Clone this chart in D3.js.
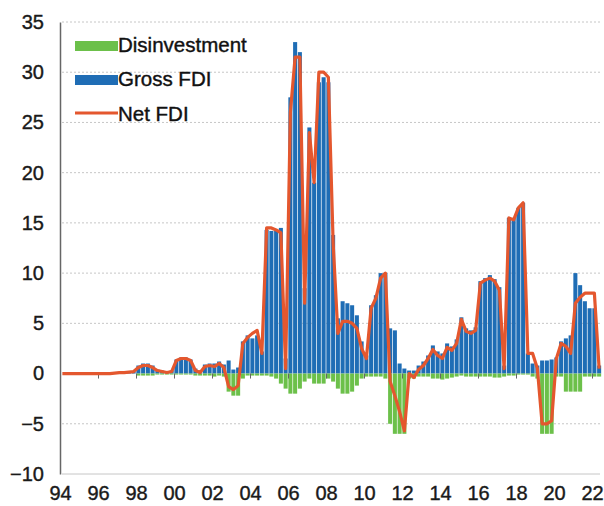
<!DOCTYPE html>
<html>
<head>
<meta charset="utf-8">
<script src="https://cdn.jsdelivr.net/npm/d3@7/dist/d3.min.js"></script>
<style>
  html, body { margin: 0; padding: 0; background: #fff; }
  svg { display: block; }
  text { font-family: "Liberation Sans", Arial, sans-serif; }
</style>
</head>
<body>
<svg id="chart" width="604" height="506"></svg>
<script>
// Quarterly data, 1994 Q1 .. 2022 Q2
const startYear = 1994;
const seriesNames = ["Disinvestment", "Gross FDI", "Net FDI"];
const yTicks = [-10, -5, 0, 5, 10, 15, 20, 25, 30, 35];
const xTickYears = [1994, 1996, 1998, 2000, 2002, 2004, 2006, 2008, 2010, 2012, 2014, 2016, 2018, 2020, 2022];
const xTickLabels = ["94", "96", "98", "00", "02", "04", "06", "08", "10", "12", "14", "16", "18", "20", "22"];

const grossFDI = [
  0, 0, 0, 0,
  0, 0, 0, 0,
  0, 0, 0, 0.05,
  0.1, 0.1, 0.15, 0.2,
  0.8, 1.0, 1.0, 0.8,
  0.4, 0.3, 0.2, 0.3,
  1.4, 1.6, 1.6, 1.4,
  0.5, 0.3, 0.9, 1.0,
  1.0, 1.2, 0.9, 1.3,
  0.4, 0.6, 3.2, 3.8,
  3.5, 3.8, 2.2, 14.3,
  14.2, 14.2, 14.5, 1.5,
  27.5, 33, 32, 8.5,
  24.5, 19, 29, 29.5,
  29, 13.8, 5.5, 7.2,
  7, 6.8, 5.8, 3.2,
  1.8, 6.8, 7.8, 10,
  10, 4.5, 4.3, 1.0,
  0.5, 0.3, 0.3, 0.8,
  1.2, 1.8, 2.8, 2.2,
  2.0, 3.0, 2.7, 3.4,
  5.6, 4.5, 4.3, 4.6,
  9.2, 9.5, 9.8, 9.4,
  8.6, 0.8, 15.5, 15.5,
  16.5, 17, 2.0, 1.0,
  0.8, 1.3, 1.3, 1.4,
  1.6, 3.2, 3.5, 3.8,
  10, 8.8, 7.2, 6.5,
  6.5, 0.8
];

const disinvestment = [
  0, 0, 0, 0,
  0, 0, 0, 0,
  0, 0, 0, 0,
  0, 0, 0, 0,
  -0.2, -0.2, -0.2, -0.2,
  -0.1, -0.1, -0.1, -0.1,
  -0.1, -0.1, -0.1, -0.1,
  -0.2, -0.2, -0.2, -0.2,
  -0.3, -0.2, -0.3, -1.8,
  -2.2, -2.2, -0.5, -0.2,
  -0.2, -0.2, -0.2, -0.2,
  -0.3, -0.5, -1.0, -1.5,
  -2.0, -2.0, -1.5, -0.8,
  -0.5, -1.0, -1.0, -1.0,
  -0.5, -0.8, -1.5, -2.0,
  -2.0, -1.8, -1.2, -0.5,
  -0.3, -0.3, -0.3, -0.3,
  -0.5, -5.0, -6.0, -6.0,
  -6.0, -0.5, -0.5, -0.3,
  -0.3, -0.3, -0.5, -0.5,
  -0.6, -0.5, -0.4, -0.3,
  -0.2, -0.3, -0.3, -0.3,
  -0.3, -0.3, -0.3, -0.4,
  -0.4, -0.3, -0.2, -0.2,
  -0.1, -0.1, -0.1, -0.3,
  -0.5, -6.0, -6.0, -6.0,
  -0.3, -0.3, -1.8, -1.8,
  -1.8, -1.8, -0.3, -0.3,
  -0.3, -0.3
];

const netFDI = [
  0, 0, 0, 0,
  0, 0, 0, 0,
  0, 0, 0, 0.05,
  0.1, 0.1, 0.15, 0.2,
  0.6, 0.8, 0.8, 0.6,
  0.3, 0.2, 0.1, 0.2,
  1.3, 1.5, 1.5, 1.3,
  0.3, 0.1, 0.7, 0.8,
  0.7, 1.0, 0.6, -1.3,
  -1.6, -1.2, 3.0, 3.6,
  4.0, 4.3, 2.0, 14.5,
  14.5, 14.3, 14.0, 0.5,
  26, 31.5, 31.5, 7,
  24, 19, 30, 30,
  29.5, 13, 4, 5.2,
  5.2, 5, 4.5, 2.5,
  1.5, 6.5, 7.5, 9.5,
  10, -0.8, -2.2, -3.8,
  -5.7, 0, -0.4, 0.4,
  0.8, 1.5, 2.4, 1.8,
  1.5, 2.6, 2.3, 3.0,
  5.4, 4.2, 4.0, 4.3,
  9.0, 9.3, 9.5, 9.2,
  8.3, 0.5, 15.5, 15.3,
  16.5, 17, 2, 2,
  0.5, -5, -5, -4.7,
  1.5, 3, 2.7, 2,
  7, 7.6, 8, 8,
  8, 0.5
];

const colors = { dis: "#6cc04a", gross: "#1f6db5", net: "#e4572e" };

const svg = d3.select("#chart");
const n = netFDI.length;
const tOf = i => startYear + i / 4;

const x = d3.scaleLinear().domain([1994, 2022.5]).range([60, 601.5]);
const y = d3.scaleLinear().domain([-10, 35]).range([474, 22]);

// gridlines
svg.append("g").selectAll("line")
  .data(yTicks.filter(v => v !== 0))
  .join("line")
  .attr("x1", 62).attr("x2", 600)
  .attr("y1", d => y(d)).attr("y2", d => y(d))
  .attr("stroke", "#c6c6c6")
  .attr("stroke-width", 1)
  .attr("stroke-dasharray", d => d === -10 ? null : "2,2");

// bars
const barsG = svg.append("g");
const idx = d3.range(n);
barsG.selectAll("rect.gross")
  .data(idx)
  .join("rect")
  .attr("class", "gross")
  .attr("x", i => x(tOf(i)) + 0.35)
  .attr("width", i => x(tOf(i + 1)) - x(tOf(i)) - 0.7)
  .attr("y", i => y(Math.max(0, grossFDI[i])))
  .attr("height", i => Math.abs(y(grossFDI[i]) - y(0)))
  .attr("fill", colors.gross);

barsG.selectAll("rect.dis")
  .data(idx)
  .join("rect")
  .attr("class", "dis")
  .attr("x", i => x(tOf(i)) + 0.35)
  .attr("width", i => x(tOf(i + 1)) - x(tOf(i)) - 0.7)
  .attr("y", i => y(Math.max(0, disinvestment[i])))
  .attr("height", i => Math.abs(y(disinvestment[i]) - y(0)))
  .attr("fill", colors.dis);

// zero-line ticks
const zeroAxis = svg.append("g")
  .attr("transform", `translate(0,${y(0)})`)
  .call(d3.axisBottom(x).tickValues(xTickYears).tickSize(5).tickFormat(""));
zeroAxis.select(".domain").remove();
zeroAxis.selectAll(".tick line").attr("stroke", "#666").attr("stroke-width", 1);

// net line
svg.append("path")
  .datum(idx)
  .attr("fill", "none")
  .attr("stroke", colors.net)
  .attr("stroke-width", 3.2)
  .attr("stroke-linejoin", "round")
  .attr("d", d3.line().x(i => x(tOf(i) + 0.125)).y(i => y(netFDI[i])));

// y axis
const yAxis = svg.append("g")
  .attr("transform", "translate(60,0)")
  .call(d3.axisLeft(y).tickValues(yTicks).tickSize(0).tickSizeOuter(0).tickPadding(16));
yAxis.select(".domain").attr("stroke", "#666").attr("stroke-width", 1.5);
yAxis.selectAll("text")
  .attr("font-size", 20)
  .attr("fill", "#1a1a1a")
  .attr("stroke", "#1a1a1a")
  .attr("stroke-width", 0.4)
  .attr("font-family", "Liberation Sans, Arial, sans-serif");

// x axis labels
const xAxis = svg.append("g")
  .attr("transform", "translate(0,484)")
  .call(d3.axisBottom(x).tickValues(xTickYears).tickSize(0).tickPadding(2)
    .tickFormat((d, i) => xTickLabels[i]));
xAxis.select(".domain").remove();
xAxis.selectAll("text")
  .attr("font-size", 20)
  .attr("fill", "#1a1a1a")
  .attr("stroke", "#1a1a1a")
  .attr("stroke-width", 0.4)
  .attr("font-family", "Liberation Sans, Arial, sans-serif");

// legend
const legend = svg.append("g");
legend.append("rect").attr("x", 75).attr("y", 41).attr("width", 43).attr("height", 10).attr("fill", colors.dis);
legend.append("rect").attr("x", 75).attr("y", 75).attr("width", 43).attr("height", 10).attr("fill", colors.gross);
legend.append("line").attr("x1", 75).attr("x2", 118).attr("y1", 113).attr("y2", 113)
  .attr("stroke", colors.net).attr("stroke-width", 3);
const legendY = [52, 86, 121];
legend.selectAll("text.lg")
  .data(seriesNames)
  .join("text")
  .attr("class", "lg")
  .attr("x", 118)
  .attr("y", (d, i) => legendY[i])
  .attr("font-size", 20.5)
  .attr("fill", "#111")
  .attr("stroke", "#111")
  .attr("stroke-width", 0.4)
  .text(d => d);
</script>
</body>
</html>
